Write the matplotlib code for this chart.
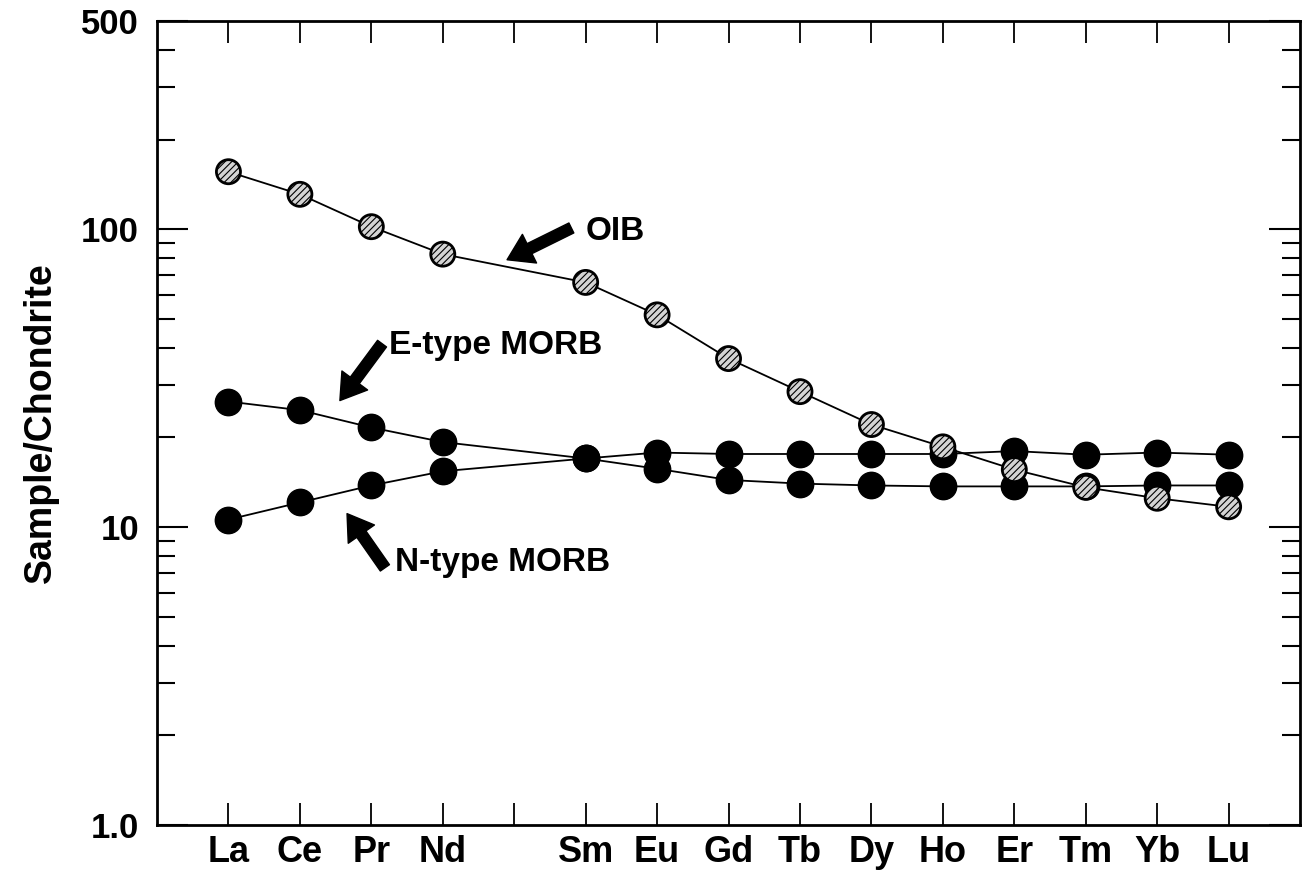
import matplotlib
matplotlib.use("Agg")
import matplotlib.pyplot as plt
from matplotlib.ticker import FixedLocator, NullFormatter

plt.rcParams["font.family"] = ["Liberation Sans", "DejaVu Sans"]
plt.rcParams["font.weight"] = "bold"
plt.rcParams["hatch.linewidth"] = 0.8

# REE axis order, Pm is left as an empty slot
AXIS_ELEMENTS = ["La", "Ce", "Pr", "Nd", "Pm", "Sm", "Eu", "Gd", "Tb", "Dy", "Ho", "Er", "Tm", "Yb", "Lu"]
ELEMENTS = ["La", "Ce", "Pr", "Nd", "Sm", "Eu", "Gd", "Tb", "Dy", "Ho", "Er", "Tm", "Yb", "Lu"]

oib = [156, 131, 102, 82.5, 66.3, 51.6, 36.8, 28.5, 22.1, 18.6, 15.6, 13.6, 12.5, 11.7]
e_morb = [26.4, 24.7, 21.6, 19.3, 17.0, 15.7, 14.4, 14.0, 13.8, 13.7, 13.7, 13.7, 13.8, 13.8]
n_morb = [10.6, 12.1, 13.8, 15.4, 17.0, 17.8, 17.6, 17.6, 17.6, 17.6, 18.0, 17.5, 17.8, 17.5]

y_ticks = [1, 10, 100, 500]
y_ticklabels = ["1.0", "10", "100", "500"]

# labels: (text, text anchor, arrow tail, arrow tip)
labels = [
    ("OIB", (6.0, 98.5), (5.8, 101), (4.9, 79)),
    ("E-type MORB", (3.25, 40.7), (3.15, 41.3), (2.56, 26.6)),
    ("N-type MORB", (3.33, 7.6), (3.19, 7.3), (2.66, 11.1)),
]

x = [AXIS_ELEMENTS.index(el) + 1 for el in ELEMENTS]
x_ticks = list(range(1, len(AXIS_ELEMENTS) + 1))
x_ticklabels = ["" if el == "Pm" else el for el in AXIS_ELEMENTS]

fig = plt.figure(figsize=(13.04, 8.77), dpi=100)
ax = fig.add_axes([0.1204, 0.0593, 0.8766, 0.9167])

for vals in (e_morb, n_morb):
    ax.plot(x, vals, "-", color="black", lw=1.3, zorder=2)
    ax.plot(x, vals, "o", color="black", ms=19, mec="black", zorder=3)

ax.plot(x, oib, "-", color="black", lw=1.3, zorder=4)
ax.scatter(x, oib, s=300, facecolor="#d4d4d4", edgecolor="black",
           linewidths=2, hatch="/////", zorder=5)

ax.set_yscale("log")
ax.set_ylim(1, 500)
ax.set_xlim(0, 16)

ax.yaxis.set_major_locator(FixedLocator(y_ticks))
ax.set_yticklabels(y_ticklabels)
minors = [m * 10 ** d for d in range(0, 3) for m in range(2, 10) if m * 10 ** d < 500]
ax.yaxis.set_minor_locator(FixedLocator(minors))
ax.yaxis.set_minor_formatter(NullFormatter())

ax.set_xticks(x_ticks)
ax.set_xticklabels(x_ticklabels)

ax.tick_params(axis="x", which="major", direction="in", length=16, width=1.3,
               top=True, bottom=True, labelsize=26, pad=7)
ax.tick_params(axis="y", which="major", direction="in", length=22, width=1.5,
               left=True, right=True, labelsize=25, pad=13)
ax.tick_params(axis="y", which="minor", direction="in", length=13, width=1.5,
               left=True, right=True)
for lab in ax.get_xticklabels() + ax.get_yticklabels():
    lab.set_fontweight("bold")

for sp in ax.spines.values():
    sp.set_linewidth(2)

ax.set_ylabel("Sample/Chondrite", fontsize=27, fontweight="bold", labelpad=16)

arrow = dict(facecolor="black", edgecolor="black", width=8, headwidth=23, headlength=18, shrink=0)
for text, pos, tail, tip in labels:
    ax.text(pos[0], pos[1], text, fontsize=24, fontweight="bold", ha="left", va="center")
    ax.annotate("", xy=tip, xytext=tail, arrowprops=arrow)

fig.savefig("out.png", dpi=100)
